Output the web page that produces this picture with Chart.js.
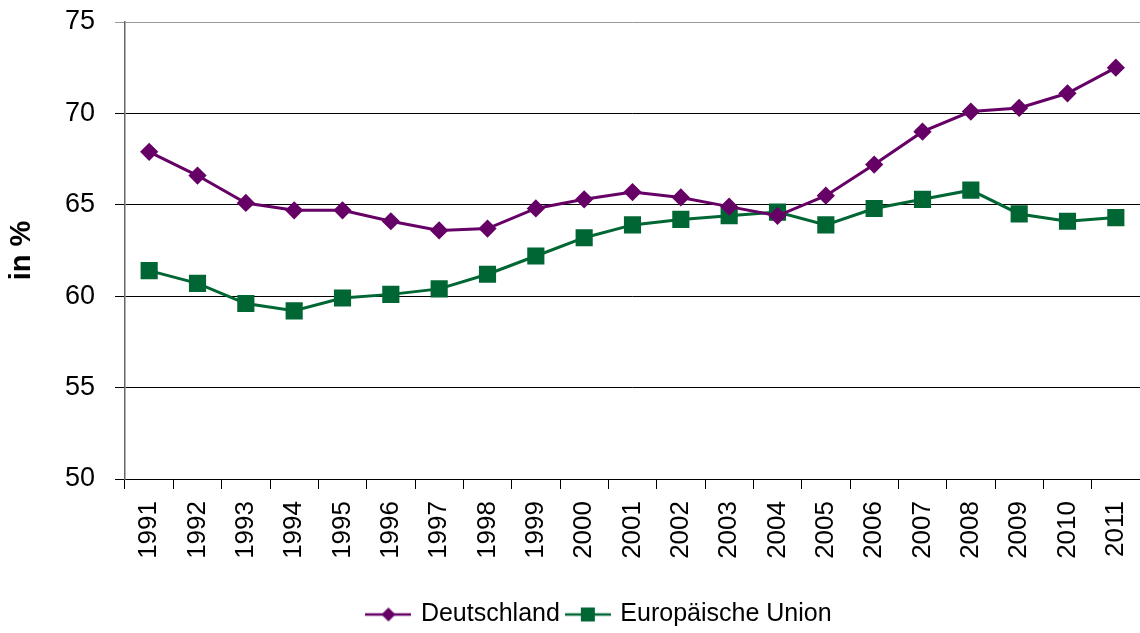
<!DOCTYPE html>
<html>
<head>
<meta charset="utf-8">
<script src="https://cdn.jsdelivr.net/npm/chart.js@4/dist/chart.umd.min.js"></script>
<style>
html,body{margin:0;padding:0;background:#fff;}
#wrap{width:1140px;height:633px;}
</style>
</head>
<body>
<div id="wrap"><canvas id="c" width="1140" height="633"></canvas></div>
<script>
const years = ['1991','1992','1993','1994','1995','1996','1997','1998','1999','2000','2001','2002','2003','2004','2005','2006','2007','2008','2009','2010','2011'];
const deutschland = [67.9,66.6,65.1,64.7,64.7,64.1,63.6,63.7,64.8,65.3,65.7,65.4,64.9,64.4,65.5,67.2,69.0,70.1,70.3,71.1,72.5];
const eu = [61.4,60.7,59.6,59.2,59.9,60.1,60.4,61.2,62.2,63.2,63.9,64.2,64.4,64.6,63.9,64.8,65.3,65.8,64.5,64.1,64.3];
const yTicks = [50,55,60,65,70,75];

const purple = '#660066';
const green = '#006633';
const FONT = 'Liberation Sans, Arial, sans-serif';

function legendIcon(color, shape){
  const c = document.createElement('canvas');
  c.width = 46; c.height = 16;
  const g = c.getContext('2d');
  g.strokeStyle = color; g.lineWidth = 2.5;
  g.beginPath(); g.moveTo(0,8); g.lineTo(46,8); g.stroke();
  g.fillStyle = color;
  if(shape==='diamond'){
    g.beginPath(); g.moveTo(23,1); g.lineTo(30,8); g.lineTo(23,15); g.lineTo(16,8); g.closePath(); g.fill();
  } else {
    g.fillRect(16,1,14,14);
  }
  return c;
}

const shiftLegend = {
  id: 'shiftLegend',
  beforeDraw(chart){
    const l = chart.legend;
    if (l && !l._shifted) { l.left += 30; l.right += 30; l.top += 4; l.bottom += 4; l._shifted = true; }
  }
};

function zeroPad(s){ s.paddingTop = 0; s.paddingBottom = 0; s.paddingLeft = 0; s.paddingRight = 0; }

new Chart(document.getElementById('c'), {
  type: 'line',
  data: {
    labels: years,
    datasets: [
      {label:'Deutschland', data: deutschland, borderColor: purple, backgroundColor: purple,
       borderWidth: 3, pointStyle: 'rectRot', pointRadius: 7, pointHoverRadius: 7, tension: 0, clip: false},
      {label:'Europäische Union', data: eu, borderColor: green, backgroundColor: green,
       borderWidth: 3, pointStyle: 'rect', pointRadius: 10, pointHoverRadius: 10, tension: 0, clip: false}
    ]
  },
  plugins: [shiftLegend],
  options: {
    responsive: false,
    animation: false,
    layout: {autoPadding: false, padding: {left: 0, right: 0, top: 22, bottom: 0}},
    scales: {
      x: {
        offset: true,
        afterFit: (s) => { s.height = 111; zeroPad(s); },
        grid: {offset: true, drawOnChartArea: false, drawTicks: true, tickLength: 10, color: '#000'},
        border: {color: '#000', width: 1},
        ticks: {color: '#000', font: {family: FONT, size: 26}, minRotation: 90, maxRotation: 90, autoSkip: false, padding: 12}
      },
      y: {
        min: 50, max: 75,
        afterFit: (s) => { s.width = 125; zeroPad(s); },
        afterBuildTicks: (s) => { s.ticks = yTicks.map(v => ({value: v})); },
        grid: {color: (ctx) => ctx.tick && ctx.tick.value === 75 ? '#999' : '#000', tickLength: 10, lineWidth: 1},
        border: {color: '#666', width: 1.5},
        ticks: {color: '#000', font: {family: FONT, size: 27}, padding: 20},
        title: {display: true, text: 'in %', color: '#000', font: {family: FONT, size: 29, weight: 'bold'}, padding: {top: 5, bottom: 0}}
      }
    },
    plugins: {
      legend: {
        position: 'bottom',
        labels: {
          color: '#000',
          font: {family: FONT, size: 25},
          usePointStyle: true,
          pointStyleWidth: 40,
          padding: 8,
          generateLabels: (chart) => chart.data.datasets.map((ds, i) => ({
            text: ds.label,
            pointStyle: legendIcon(ds.borderColor, i === 0 ? 'diamond' : 'square'),
            fillStyle: ds.borderColor, strokeStyle: ds.borderColor, lineWidth: 0,
            datasetIndex: i, hidden: false, fontColor: '#000'
          }))
        }
      },
      tooltip: {enabled: false}
    }
  }
});
</script>
</body>
</html>
